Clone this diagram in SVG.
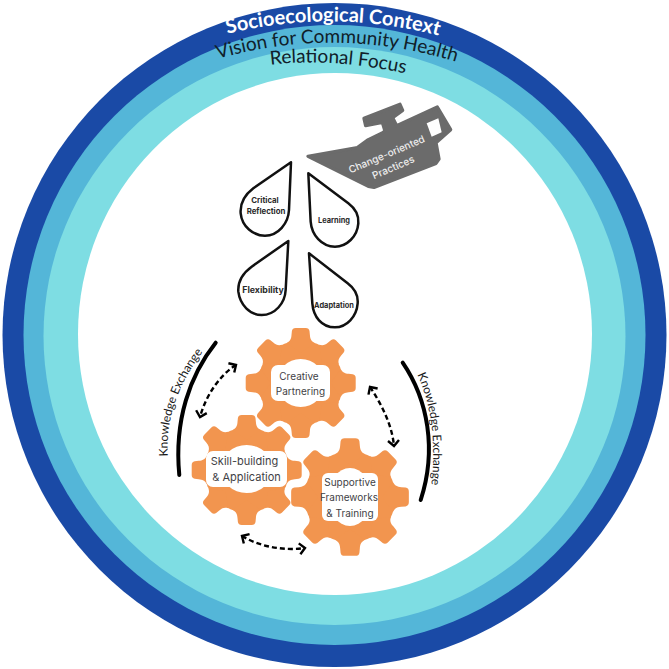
<svg xmlns="http://www.w3.org/2000/svg" width="669" height="669" viewBox="0 0 669 669">
<style>
.gear{fill:#F2954F}
.lab{fill:#fff}
.gt{font-family:"Inter","Liberation Sans",sans-serif;font-size:10px;fill:#3f3f46;text-anchor:middle}
.dt{font-family:"Inter","Liberation Sans",sans-serif;font-size:7.400px;font-weight:700;fill:#2a2a2a;text-anchor:middle}
.ke{font-family:"Lato","Liberation Sans",sans-serif;font-size:12px;fill:#1a1a1a;text-anchor:middle}
.ring{font-family:"Lato","Liberation Sans",sans-serif;text-anchor:middle}
.drop{fill:#fff;stroke:#111;stroke-width:7.500px;stroke-linejoin:round}
.arc{fill:none;stroke:#000;stroke-width:4px;stroke-linecap:round}
.dash{fill:none;stroke:#000;stroke-width:2.400px;stroke-dasharray:5 3;marker-start:url(#chev);marker-end:url(#chev)}
</style>
<defs>
<marker id="chev" viewBox="-8 -8 16 16" markerWidth="16" markerHeight="16" markerUnits="userSpaceOnUse" orient="auto-start-reverse" refX="0" refY="0">
<path d="M-5.500 -5.500L0 0L-5.500 5.500" fill="none" stroke="#000" stroke-width="2.400"/>
</marker>
<path id="t" d="M-14 -40C-10.500 -42 -9.500 -44 -9.200 -48L-8.800 -52Q-8.300 -55 -5 -55L5 -55Q8.300 -55 8.800 -52L9.200 -48C9.500 -44 10.500 -42 14 -40L0 -30Z"/>
<g id="g"><circle r="42.500"/>
<use href="#t"/><use href="#t" transform="rotate(45)"/><use href="#t" transform="rotate(90)"/><use href="#t" transform="rotate(135)"/><use href="#t" transform="rotate(180)"/><use href="#t" transform="rotate(225)"/><use href="#t" transform="rotate(270)"/><use href="#t" transform="rotate(315)"/></g>
<path id="r1" d="M222 35Q334 7 444 37" fill="none"/>
<path id="r2" d="M214 60Q335 24 460 63" fill="none"/>
<path id="r3" d="M268 65Q330 57 408 74" fill="none"/>
<path id="k1" d="M168 460C165 420 177 385 205 349" fill="none"/>
<path id="k2" d="M416 372C430 400 437 440 431 488" fill="none"/>
</defs>
<rect width="669" height="669" fill="#fff"/>
<g id="rings">
<circle cx="334.500" cy="335" r="332" fill="#1A4AA6"/>
<ellipse cx="334.500" cy="335" rx="311" ry="310" fill="#54B6D8"/>
<ellipse cx="334.500" cy="336" rx="291" ry="289" fill="#7EDDE3"/>
<ellipse cx="335" cy="334" rx="257" ry="261" fill="#fff"/>
</g>
<g id="ring-labels">
<text class="ring" font-size="20" font-weight="700" fill="#fff"><textPath href="#r1" startOffset="50%">Socioecological Context</textPath></text>
<text class="ring" font-size="19" fill="#10202a"><textPath href="#r2" startOffset="50%">Vision for Community Health</textPath></text>
<text class="ring" font-size="19" fill="#10202a"><textPath href="#r3" startOffset="50%">Relational Focus</textPath></text>
</g>
<g id="connectors">
<path class="arc" d="M215.700 342.700C190 375 174 420 179.300 475"/>
<path class="arc" d="M402.700 362.700C428 400 437 450 420.700 500"/>
<path class="dash" d="M236 365C220 375 206 395 200 417"/>
<path class="dash" d="M370 387C382 405 392 425 394 446"/>
<path class="dash" d="M242 536C260 547 285 551 305 548"/>
</g>
<g id="k-labels">
<text class="ke"><textPath href="#k1" startOffset="50%">Knowledge Exchange</textPath></text>
<text class="ke"><textPath href="#k2" startOffset="50%">Knowledge Exchange</textPath></text>
</g>
<g id="practices">
<g transform="translate(300 95) scale(.3333)">
<path fill="#6B6B6B" stroke="#6B6B6B" stroke-width="10" stroke-linejoin="round" d="M24 184L172 158L205 134L245 115L255 108L247 82L197 92L192 70L300 28L308 46L278 68L290 92L412 36L452 104L408 143L417 192L408 205L222 277L205 274Z"/>
<path fill="#fff" d="M380 85L415 70L425 112L395 125Z"/>
</g>
<text class="dt" style="fill:#eee;font-size:10px;font-weight:500" transform="translate(388 157.500) rotate(-23)"><tspan x="0" y="0">Change-oriented</tspan><tspan x="1" y="14.500">Practices</tspan></text>
</g>
<g id="drop-critical"><path class="drop" transform="translate(220 90) scale(.3333)" d="M213 217L100 295C70 318 60 345 62 370C66 410 100 437 135 437C175 437 205 400 207 360Z"/><text class="dt" style="font-size:7.800px"><tspan x="265" y="203">Critical</tspan><tspan x="266" y="214">Reflection</tspan></text></g>
<g id="drop-learning"><path class="drop" transform="translate(220 90) scale(.3333)" d="M265 250L385 340C405 355 417 375 415 400C412 440 380 470 345 470C305 470 275 435 272 395Z"/><text class="dt" x="334" y="223">Learning</text></g>
<g id="drop-flexibility"><path class="drop" transform="translate(220 90) scale(.3333)" d="M205 453L95 530C65 552 53 578 55 605C60 645 90 675 125 675C165 675 195 640 197 600Z"/><text class="dt" x="263" y="293" style="font-size:8.800px">Flexibility</text></g>
<g id="drop-adaptation"><path class="drop" transform="translate(220 90) scale(.3333)" d="M267 490L383 580C403 595 415 615 413 640C410 680 380 712 345 712C305 712 280 680 277 640Z"/><text class="dt" x="334" y="308">Adaptation</text></g>
<g id="gear-creative">
<use href="#g" class="gear" transform="translate(300.700 383)"/>
<rect class="lab" x="271" y="365" width="59" height="36" rx="7"/><ellipse class="lab" cx="300.700" cy="383" rx="24" ry="24"/>
<text class="gt"><tspan x="299" y="380">Creative</tspan><tspan x="300.500" y="395">Partnering</tspan></text>
</g>
<g id="gear-skill">
<use href="#g" class="gear" transform="translate(246.700 470)"/>
<rect class="lab" x="206" y="451" width="81" height="36" rx="7"/><ellipse class="lab" cx="246.700" cy="469" rx="26" ry="24"/>
<text class="gt" style="font-size:11px"><tspan x="244.500" y="464.500">Skill-building</tspan><tspan x="246.500" y="481">&amp; Application</tspan></text>
</g>
<g id="gear-supportive">
<use href="#g" class="gear" transform="translate(350 497) scale(1.07)"/>
<rect class="lab" x="322" y="473" width="56" height="48" rx="6"/><ellipse class="lab" cx="350" cy="497" rx="22" ry="29"/>
<text class="gt"><tspan x="350" y="486">Supportive</tspan><tspan x="349" y="501">Frameworks</tspan><tspan x="350" y="516.500">&amp; Training</tspan></text>
</g>
</svg>
